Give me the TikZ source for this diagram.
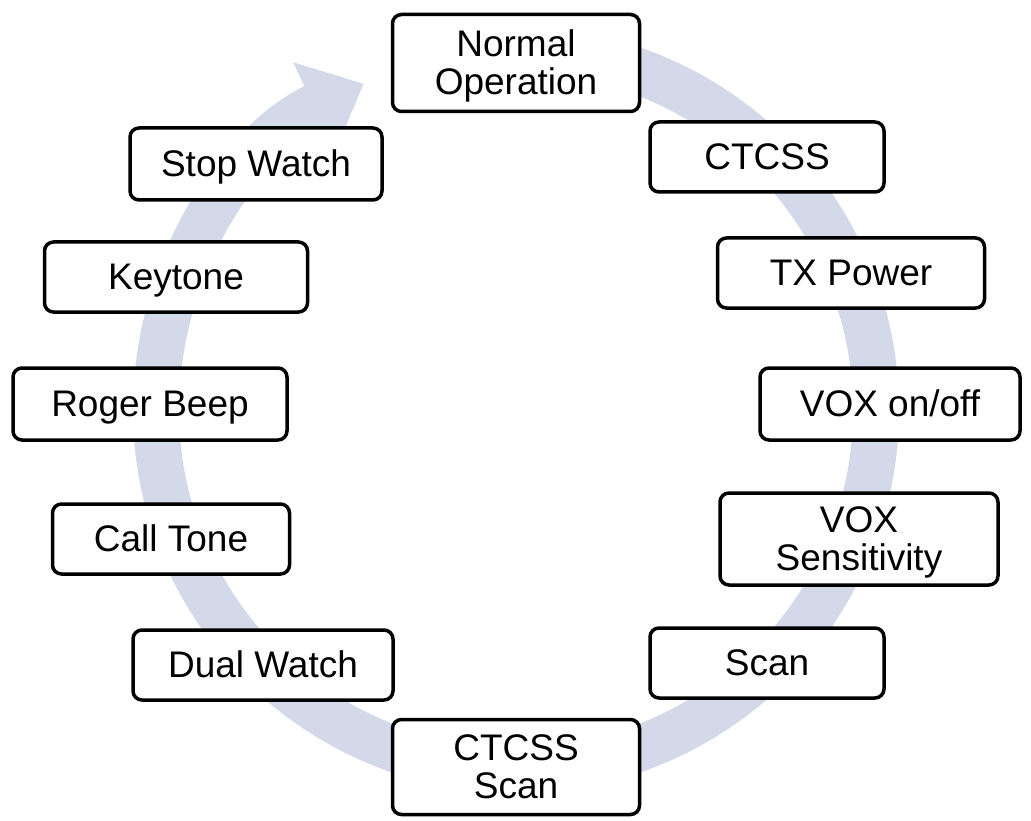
\documentclass[tikz,border=0pt]{standalone}
\usepackage{fontspec}
\setmainfont{Liberation Sans}
\usetikzlibrary{arrows.meta}
\definecolor{band}{RGB}{212,217,234}
\begin{document}
\begin{tikzpicture}[x=1pt,y=1pt,
  box/.style={draw=black,line width=3.5pt,rounded corners=9pt,fill=white,align=center,font=\fontsize{37}{38}\selectfont,inner sep=0pt,text depth=0.25ex}]
\useasboundingbox (0,0) rectangle (1031,-821);
\draw[band,line width=46pt,-{Triangle[width=95pt,length=55pt]}] (516,-50) arc[start angle=90,end angle=-245,radius=360];
\node[box,minimum width=247pt,minimum height=97pt] (n1) at (516,-63) {Normal\\Operation};
\node[box,minimum width=234pt,minimum height=70pt] (n2) at (767,-157) {CTCSS};
\node[box,minimum width=267pt,minimum height=70pt] (n3) at (851,-273) {TX Power};
\node[box,minimum width=260pt,minimum height=72pt] (n4) at (890,-404) {VOX on/off};
\node[box,minimum width=278pt,minimum height=92pt] (n5) at (859,-539) {VOX\\Sensitivity};
\node[box,minimum width=234pt,minimum height=70pt] (n6) at (767,-663) {Scan};
\node[box,minimum width=247pt,minimum height=95pt] (n7) at (516,-767) {CTCSS\\Scan};
\node[box,minimum width=260pt,minimum height=70pt] (n8) at (263,-665) {Dual Watch};
\node[box,minimum width=237pt,minimum height=70pt] (n9) at (171,-539) {Call Tone};
\node[box,minimum width=274pt,minimum height=72pt] (n10) at (150,-404) {Roger Beep};
\node[box,minimum width=263pt,minimum height=70pt] (n11) at (176,-277) {Keytone};
\node[box,minimum width=252pt,minimum height=72pt] (n12) at (256,-164) {Stop Watch};
\end{tikzpicture}
\end{document}
